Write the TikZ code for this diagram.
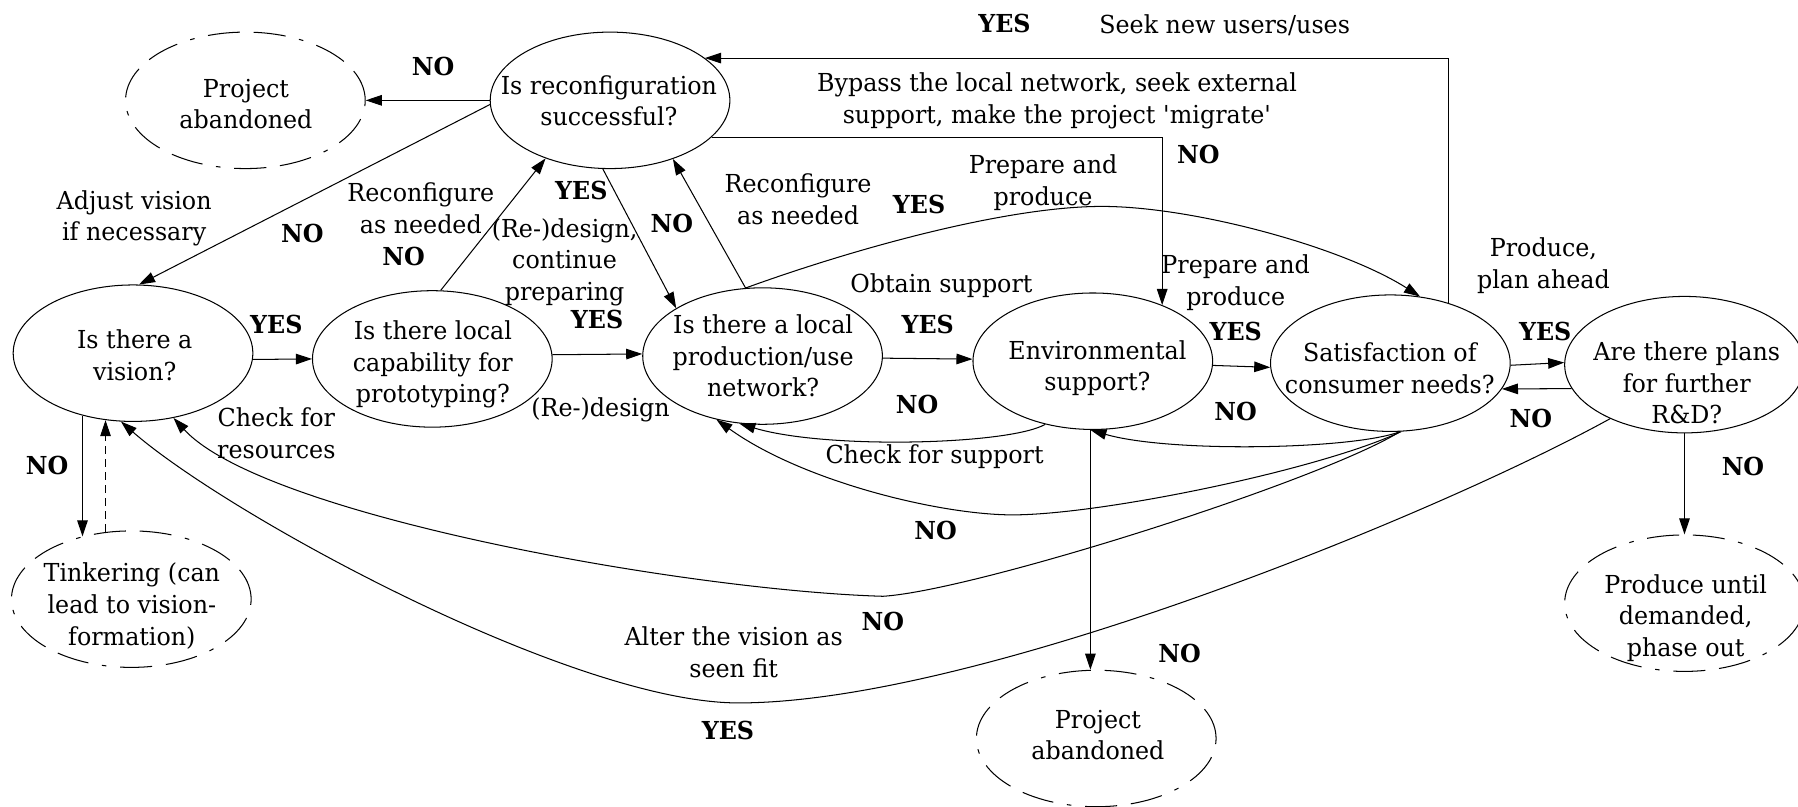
\documentclass[tikz,border=0pt]{standalone}
\usepackage{fontspec}
\setmainfont{DejaVu Serif}[FakeStretch=0.96]
\usetikzlibrary{arrows.meta,shapes.geometric}
\begin{document}
\begin{tikzpicture}[x=0.5pt,y=-0.5pt,
  every node/.style={font=\fontsize{10.8}{13.8}\selectfont},
  qnode/.style={ellipse, draw, line width=0.45pt, minimum width=104.5pt, minimum height=59.5pt, inner sep=0pt},
  endnode/.style={qnode, dash pattern=on 14pt off 6pt on 14pt off 6pt on 2pt off 6pt},
  qtext/.style={align=center, inner sep=0pt},
  lbl/.style={align=center, inner sep=0pt},
  ans/.style={font=\fontsize{10.8}{13.8}\selectfont\bfseries, inner sep=0pt},
  arr/.style={-{Triangle[length=7pt,width=4.6pt]}, line width=0.45pt},
  tink/.style={arr, dash pattern=on 3.5pt off 2.2pt},
]
\clip (0,0) rectangle (1568,703);

% decision and end-state ellipses
\node[endnode] (abandonA) at (214,87.5) {};
\node[qnode] (reconf) at (532,87.5) {};
\node[qnode] (vision) at (116,308) {};
\node[qnode] (proto) at (377,313) {};
\node[qnode] (network) at (665,310.5) {};
\node[qnode] (env) at (953,315) {};
\node[qnode] (satisf) at (1212.5,316.7) {};
\node[qnode] (plans) at (1469,318) {};
\node[endnode] (tinker) at (114.5,522.5) {};
\node[endnode] (abandonB) at (956,644) {};
\node[endnode] (phaseout) at (1469,526) {};

% texts inside the ellipses
\node[qtext] (abandonA-t) at (214.5,90.8) {Project\\abandoned};
\node[qtext] (reconf-t) at (531,87.9) {Is reconfiguration\\successful?};
\node[qtext] (vision-t) at (117.5,309.6) {Is there a\\vision?};
\node[qtext] (proto-t) at (377.5,318) {Is there local\\capability for\\prototyping?};
\node[qtext] (network-t) at (665.5,310.5) {Is there a local\\production/use\\network?};
\node[qtext] (env-t) at (957,321) {Environmental\\support?};
\node[qtext] (satisf-t) at (1212,321) {Satisfaction of\\consumer needs?};
\node[qtext] (plans-t) at (1471,333.8) {Are there plans\\for further\\R\&D?};
\node[qtext] (tinker-t) at (115,528.4) {Tinkering (can\\lead to vision-\\formation)};
\node[qtext] (abandonB-t) at (957.5,641) {Project\\abandoned};
\node[qtext] (phaseout-t) at (1470,539) {Produce until\\demanded,\\phase out};

% straight connectors
\draw[arr] (reconf.west) -- (abandonA.east);
\draw[arr] (reconf.182) -- (vision.85);
\draw[arr] (proto.83) -- (reconf.222);
\draw[arr] (reconf.264) -- (network.151);
\draw[arr] (network.104) -- (reconf.317);
\draw[arr] (vision.357) -- (proto.180);
\draw[arr] (proto.2) -- (network.179);
\draw[arr] (network.359) -- (env.179);
\draw[arr] (env.358) -- (satisf.182);
\draw[arr] (satisf.359) -- (plans.179);
\draw[arr] (plans.192) -- (satisf.347);
\draw[arr] (satisf.46) |- (reconf.24);
\draw[arr] (reconf.340) -| (env.39);
\draw[arr] (env.268) -- (env.268 |- abandonB.north);
\draw[arr] (plans.south) -- (phaseout.north);
\draw[arr] (vision.231) -- (vision.231 |- tinker.128);
\draw[tink] (tinker.111) -- (tinker.111 |- vision.248);

% curved connectors
\draw[arr] (network.104) .. controls (750,215) and (880,180) .. (961,180)
  .. controls (1040,180) and (1170,215) .. (satisf.66);
\draw[arr] (env.233) .. controls (880,388) and (720,392) .. (network.251);
\draw[arr] (satisf.278) .. controls (1180,392) and (1020,395) .. (env.268);
\draw[arr] (satisf.279) .. controls (1150,410) and (960,449) .. (883,449)
  .. controls (820,449) and (700,420) .. (network.234);
\draw[arr] (satisf.278) .. controls (1150,420) and (850,515) .. (770,520)
  .. controls (600,515) and (230,450) .. (vision.302);
\draw[arr] (plans.216) .. controls (1250,450) and (850,613) .. (644,613)
  .. controls (500,613) and (200,450) .. (vision.260);

% connector labels
\node[lbl] (l-adjust) at (117,190.3) {Adjust vision\\if necessary};
\node[lbl] (l-reconfA) at (367,181.7) {Reconfigure\\as needed};
\node[lbl] (l-redesignA) at (492.4,228.6) {(Re-)design,\\continue\\preparing};
\node[lbl] (l-reconfB) at (696,173.8) {Reconfigure\\as needed};
\node[lbl] (l-prepA) at (909.6,159.2) {Prepare and\\produce};
\node[lbl] (l-bypass) at (921.8,88) {Bypass the local network, seek external\\support, make the project \textquotesingle migrate\textquotesingle};
\node[lbl] (l-seek) at (1068,21.8) {Seek new users/uses};
\node[lbl] (l-obtain) at (821,249.4) {Obtain support};
\node[lbl] (l-prepB) at (1077.6,246.4) {Prepare and\\produce};
\node[lbl] (l-produce) at (1346,231.8) {Produce,\\plan ahead};
\node[lbl] (l-redesignB) at (523.7,357.5) {(Re-)design};
\node[lbl] (l-checkres) at (241,378) {Check for\\resources};
\node[lbl] (l-checksup) at (815,398) {Check for support};
\node[lbl] (l-alter) at (639.8,569) {Alter the vision as\\seen fit};

% answers
\node[ans] (a1) at (377.6,58) {NO};
\node[ans] (a2) at (263.7,203.5) {NO};
\node[ans] (a3) at (352,224) {NO};
\node[ans] (a4) at (507,165.7) {YES};
\node[ans] (a5) at (586,195) {NO};
\node[ans] (a6) at (241,283.4) {YES};
\node[ans] (a7) at (520.7,279) {YES};
\node[ans] (a8) at (41,405.5) {NO};
\node[ans] (a9) at (876,20.3) {YES};
\node[ans] (a10) at (1045,134.3) {NO};
\node[ans] (a11) at (801.5,178) {YES};
\node[ans] (a12) at (809,283.4) {YES};
\node[ans] (a13) at (799.7,353) {NO};
\node[ans] (a14) at (1077.6,289) {YES};
\node[ans] (a15) at (1077.6,359) {NO};
\node[ans] (a16) at (1347.5,289) {YES};
\node[ans] (a17) at (1335,364.8) {NO};
\node[ans] (a18) at (1520,407) {NO};
\node[ans] (a19) at (816,463) {NO};
\node[ans] (a20) at (770,542) {NO};
\node[ans] (a21) at (1028.6,569.8) {NO};
\node[ans] (a22) at (634.8,636.6) {YES};
\end{tikzpicture}
\end{document}
